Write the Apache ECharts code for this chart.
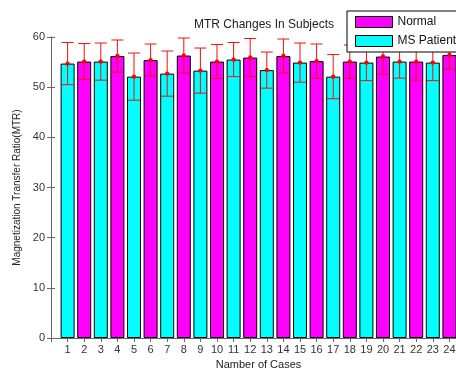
<!DOCTYPE html>
<html>
<head>
<meta charset="utf-8">
<script src="https://cdn.jsdelivr.net/npm/echarts@6/dist/echarts.min.js"></script>
<style>html,body{margin:0;padding:0;background:#fff}#c{width:456px;height:369px}</style>
</head>
<body>
<div id="c"></div>
<script>
const caseLabels = ['1','2','3','4','5','6','7','8','9','10','11','12','13','14','15','16','17','18','19','20','21','22','23','24'];
const caseGroup = ['MS Patient','Normal','MS Patient','Normal','MS Patient','Normal','MS Patient','Normal','MS Patient','Normal','MS Patient','Normal','MS Patient','Normal','MS Patient','Normal','MS Patient','Normal','MS Patient','Normal','MS Patient','Normal','MS Patient','Normal'];
const mtrMean = [54.7,55.1,55.1,56.2,52.1,55.4,52.7,56.3,53.3,55.1,55.5,55.9,53.4,56.2,54.9,55.2,52.1,55.1,54.9,56.1,55.1,55.1,54.9,56.4];
const mtrError = [4.2,3.6,3.7,3.2,4.7,3.2,4.5,3.5,4.5,3.4,3.4,3.8,3.6,3.4,3.9,3.4,4.4,3.3,3.6,3.5,3.3,3.7,3.6,2.8];
const groupNames = ['Normal','MS Patient'];
const groupColors = {'Normal':'#ff00ff','MS Patient':'#00ffff'};
const yTicks = [0,10,20,30,40,50,60];

const chart = echarts.init(document.getElementById('c'), null, {renderer:'canvas'});
const font = 'Liberation Sans, Arial, sans-serif';

const barSeries = groupNames.map(g => ({
  name: g,
  type: 'bar',
  xAxisIndex: 0,
  barWidth: 14,
  barGap: '-100%',
  itemStyle: {color: groupColors[g], borderColor: '#000', borderWidth: 1},
  data: caseLabels.map((c, i) => caseGroup[i] === g ? [i + 1, mtrMean[i]] : null).filter(d => d),
  z: 2
}));

const errSeries = {
  type: 'custom',
  xAxisIndex: 0,
  z: 5,
  silent: true,
  data: caseLabels.map((c, i) => [i + 1, mtrMean[i], mtrError[i]]),
  renderItem: function (params, api) {
    const x = api.value(0), m = api.value(1), e = api.value(2);
    const top = api.coord([x, m + e]);
    const bot = api.coord([x, m - e]);
    const mid = api.coord([x, m]);
    const hw = 6;
    const st = {stroke: '#f01010', lineWidth: 1};
    return {
      type: 'group',
      children: [
        {type: 'line', shape: {x1: top[0], y1: top[1], x2: bot[0], y2: bot[1]}, style: st},
        {type: 'line', shape: {x1: top[0] - hw, y1: top[1], x2: top[0] + hw, y2: top[1]}, style: st},
        {type: 'line', shape: {x1: bot[0] - hw, y1: bot[1], x2: bot[0] + hw, y2: bot[1]}, style: st},
        {type: 'circle', shape: {cx: mid[0], cy: mid[1], r: 2.2}, style: {fill: '#ff0000'}}
      ]
    };
  }
};

chart.setOption({
  backgroundColor: '#fff',
  animation: false,
  title: {
    text: 'MTR Changes In Subjects',
    left: 259, top: 14, textAlign: 'center',
    textStyle: {fontFamily: font, fontSize: 12, fontWeight: 'normal', color: '#222'}
  },
  legend: {
    data: groupNames,
    orient: 'vertical',
    left: 347, top: 11,
    padding: [5, 40, 5, 8],
    itemWidth: 37, itemHeight: 11, itemGap: 7,
    icon: 'rect',
    backgroundColor: '#fff',
    borderColor: '#000', borderWidth: 1,
    borderRadius: 0,
    itemStyle: {borderColor: '#000', borderWidth: 1},
    textStyle: {fontFamily: font, fontSize: 12, color: '#111'},
    z: 10
  },
  grid: {left: 51, right: -10, top: 37, bottom: 31, containLabel: false, outerBoundsMode: 'none'},
  xAxis: [{
    type: 'value', min: 0, max: 25, interval: 1, position: 'bottom',
    name: 'Namber of Cases', nameLocation: 'middle', nameGap: 20,
    nameTextStyle: {fontFamily: font, fontSize: 11, color: '#222'},
    axisLine: {lineStyle: {color: '#666', width: 1}},
    axisTick: {inside: true, length: 4, lineStyle: {color: '#666'}},
    axisLabel: {fontFamily: font, fontSize: 11, color: '#333', margin: 6,
      formatter: v => (v >= 1 && v <= caseLabels.length) ? caseLabels[v - 1] : ''},
    splitLine: {show: false}
  }, {
    type: 'value', min: 0, max: 25, interval: 1, position: 'top',
    axisLine: {lineStyle: {color: '#666', width: 1}},
    axisTick: {inside: true, length: 4, lineStyle: {color: '#666'}},
    axisLabel: {show: false},
    splitLine: {show: false}
  }],
  yAxis: [{
    type: 'value', min: yTicks[0], max: yTicks[yTicks.length - 1], interval: 10,
    name: 'Magnetization Transfer Ratio(MTR)', nameLocation: 'middle', nameGap: 21,
    nameTextStyle: {fontFamily: font, fontSize: 10, color: '#222'},
    axisLine: {show: true, lineStyle: {color: '#666', width: 1}},
    axisTick: {show: true, inside: true, length: 4, lineStyle: {color: '#666'}},
    axisLabel: {fontFamily: font, fontSize: 11, color: '#333', margin: 6},
    splitLine: {show: false}
  }, {
    type: 'value', min: yTicks[0], max: yTicks[yTicks.length - 1], interval: 10, position: 'right',
    axisLine: {show: true, lineStyle: {color: '#666', width: 1}},
    axisTick: {show: true, inside: true, length: 4},
    axisLabel: {show: false},
    splitLine: {show: false}
  }],
  series: [...barSeries, errSeries]
});
</script>
</body>
</html>
